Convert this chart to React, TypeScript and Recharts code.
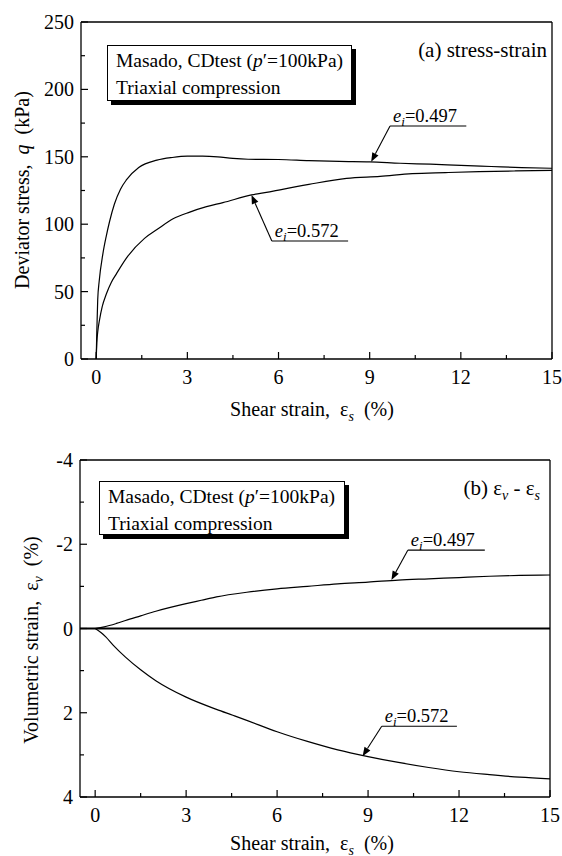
import React from "react"
import { LineChart, Line, XAxis, YAxis, ReferenceLine } from "recharts"

const FONT = '"Liberation Serif", "Times New Roman", Times, serif'

// shear strain ticks (major every 3, minor in between)
const strainTicks = [0, 1.5, 3, 4.5, 6, 7.5, 9, 10.5, 12, 13.5, 15]
const qTicks = [0, 25, 50, 75, 100, 125, 150, 175, 200, 225, 250]
const evTicks = [-4, -3, -2, -1, 0, 1, 2, 3, 4]

// (a) stress-strain, e_i = 0.497
const strainDenseQ = [0, 0.02, 0.05, 0.1, 0.22, 0.33, 0.44, 0.6, 0.8, 1.0, 1.4, 2, 2.5, 3, 3.5, 4, 4.5, 5, 6, 7, 8, 9, 10, 11, 12, 13, 14, 15]
const qDense = [0, 20, 44, 58, 78, 91, 102, 115, 126, 133, 142, 147.5, 149.5, 150.5, 150.5, 150, 148.8, 148.2, 148, 147.2, 146.6, 146.3, 145.2, 144.5, 143.6, 142.8, 142, 141.5]

// (a) stress-strain, e_i = 0.572
const strainLooseQ = [0, 0.02, 0.05, 0.11, 0.2, 0.33, 0.5, 0.66, 1.0, 1.59, 2, 2.53, 3.08, 3.63, 4.17, 5.11, 5.71, 6.05, 7, 8.24, 9.34, 10.4, 11.5, 12.6, 13.8, 15]
const qLoose = [0, 12, 20, 29, 39, 48, 57, 63, 75, 89.5, 96, 104, 109, 113, 116, 121.7, 124, 125.5, 129.5, 134, 135.5, 137.5, 138.3, 139, 139.5, 140]

// (b) volumetric strain, e_i = 0.497
const strainDenseV = [0, 0.3, 0.7, 1, 1.5, 2, 3, 3.5, 4, 5, 6, 7, 8, 9, 10, 11, 12, 13, 14, 15]
const evDense = [0, -0.04, -0.12, -0.19, -0.3, -0.41, -0.59, -0.67, -0.75, -0.86, -0.94, -1.0, -1.06, -1.1, -1.15, -1.18, -1.21, -1.24, -1.26, -1.27]

// (b) volumetric strain, e_i = 0.572
const strainLooseV = [0, 0.2, 0.35, 0.6, 1, 1.5, 2, 3, 4, 4.54, 5, 6, 7, 8, 9, 10, 11, 12, 13, 14, 15]
const evLoose = [0, 0.1, 0.2, 0.4, 0.68, 0.98, 1.24, 1.63, 1.92, 2.06, 2.18, 2.45, 2.68, 2.88, 3.04, 3.18, 3.3, 3.4, 3.47, 3.53, 3.57]

// annotation callouts: arrow tip, elbow, underline end
const calloutsQ = [
  { value: "0.497", tip: [9.05, 146.3], elbow: [9.67, 172.8], endX: 12.18 },
  { value: "0.572", tip: [5.11, 121.7], elbow: [5.78, 87.5], endX: 8.29 },
]
const calloutsV = [
  { value: "0.497", tip: [9.77, -1.15], elbow: [10.31, -1.86], endX: 12.85 },
  { value: "0.572", tip: [8.82, 3.03], elbow: [9.45, 2.32], endX: 11.93 },
]

const zip = (xs: number[], ys: number[]) => xs.map((x, i) => ({ x, y: ys[i] }))

const XTick = (props: any) => {
  const { x, y, payload, side } = props
  const major = payload.value % 3 === 0
  const len = major ? 7 : 4
  const dir = side === "bottom" ? -1 : 1
  return (
    <g>
      <line x1={x} y1={y} x2={x} y2={y + dir * len} stroke="#000" strokeWidth={1.2} />
      {side === "bottom" && major && (
        <text x={x} y={y + 25} textAnchor="middle" fontSize={20} fontFamily={FONT} fill="#000">
          {payload.value}
        </text>
      )}
    </g>
  )
}

const YTick = (props: any) => {
  const { x, y, payload, side, step } = props
  const major = payload.value % step === 0
  const len = major ? 7 : 4
  const dir = side === "left" ? 1 : -1
  return (
    <g>
      <line x1={x} y1={y} x2={x + dir * len} y2={y} stroke="#000" strokeWidth={1.2} />
      {side === "left" && major && (
        <text x={x - 7} y={y + 7} textAnchor="end" fontSize={20} fontFamily={FONT} fill="#000">
          {payload.value}
        </text>
      )}
    </g>
  )
}

const Arrow = (props: any) => {
  const { x1, y1, x2, y2 } = props
  const ang = Math.atan2(y2 - y1, x2 - x1)
  const L = 9
  const W = 3.5
  const bx = x2 - L * Math.cos(ang)
  const by = y2 - L * Math.sin(ang)
  const px = -Math.sin(ang) * W
  const py = Math.cos(ang) * W
  return (
    <g>
      <line x1={x1} y1={y1} x2={bx} y2={by} stroke="#000" strokeWidth={1.1} />
      <polygon points={`${x2},${y2} ${bx + px},${by + py} ${bx - px},${by - py}`} fill="#000" />
    </g>
  )
}

const Underline = (props: any) => {
  const { x1, y1, x2, y2, value } = props
  return (
    <g>
      <line x1={x1} y1={y1} x2={x2} y2={y2} stroke="#000" strokeWidth={1.1} />
      <text x={x1 + 3} y={y1 - 4} fontSize={18.5} fontFamily={FONT} fill="#000">
        <tspan fontStyle="italic">e</tspan>
        <tspan fontStyle="italic" fontSize={13} dy={4}>i</tspan>
        <tspan dy={-4}>={value}</tspan>
      </text>
    </g>
  )
}

const callouts = (list: typeof calloutsQ) =>
  list.flatMap((c, i) => [
    <ReferenceLine
      key={`a${i}`}
      segment={[
        { x: c.elbow[0], y: c.elbow[1] },
        { x: c.tip[0], y: c.tip[1] },
      ]}
      shape={(p: any) => <Arrow {...p} />}
    />,
    <ReferenceLine
      key={`u${i}`}
      segment={[
        { x: c.elbow[0], y: c.elbow[1] },
        { x: c.endX, y: c.elbow[1] },
      ]}
      shape={(p: any) => <Underline {...p} value={c.value} />}
    />,
  ])

const axisLine = { stroke: "#000", strokeWidth: 1.3 }

const InfoBox = ({ left, top, width, height }: any) => (
  <div
    style={{
      position: "absolute",
      left,
      top,
      width,
      height,
      boxSizing: "border-box",
      border: "1px solid #000",
      boxShadow: "4px 4px 0 #000",
      background: "#fff",
      fontFamily: FONT,
      fontSize: 19.5,
      lineHeight: "27px",
      padding: "1px 0 0 8px",
      whiteSpace: "nowrap",
    }}
  >
    <div>
      Masado, CDtest (<i>p</i>′=100kPa)
    </div>
    <div>Triaxial compression</div>
  </div>
)

const text = (style: React.CSSProperties): React.CSSProperties => ({
  position: "absolute",
  fontFamily: FONT,
  fontSize: 20,
  whiteSpace: "pre",
  lineHeight: 1,
  ...style,
})

const sub: React.CSSProperties = { fontStyle: "italic", fontSize: 14 }

const Frame = ({ yDomain, yTicks, step, reversed }: any) => [
  <XAxis
    key="xb"
    type="number"
    dataKey="x"
    domain={[-0.5, 15]}
    ticks={strainTicks}
    height={1}
    tickSize={0}
    tickMargin={0}
    tickLine={false}
    axisLine={axisLine}
    tick={(p: any) => <XTick {...p} side="bottom" />}
    interval={0}
  />,
  <XAxis
    key="xt"
    xAxisId="top"
    orientation="top"
    type="number"
    domain={[-0.5, 15]}
    ticks={strainTicks}
    height={1}
    tickSize={0}
    tickMargin={0}
    tickLine={false}
    axisLine={axisLine}
    tick={(p: any) => <XTick {...p} side="top" />}
    interval={0}
  />,
  <YAxis
    key="yl"
    type="number"
    domain={yDomain}
    reversed={reversed}
    ticks={yTicks}
    width={1}
    tickSize={0}
    tickMargin={0}
    tickLine={false}
    axisLine={axisLine}
    tick={(p: any) => <YTick {...p} side="left" step={step} />}
    interval={0}
  />,
  <YAxis
    key="yr"
    yAxisId="right"
    orientation="right"
    type="number"
    domain={yDomain}
    reversed={reversed}
    ticks={yTicks}
    width={1}
    tickSize={0}
    tickMargin={0}
    tickLine={false}
    axisLine={axisLine}
    tick={(p: any) => <YTick {...p} side="right" step={step} />}
    interval={0}
  />,
]

export default function App() {
  return (
    <div style={{ position: "absolute", left: 0, top: 0, width: 562, height: 856, background: "#fff" }}>
      {/* (a) stress-strain */}
      <div style={{ position: "absolute", left: 0, top: 0 }}>
        <LineChart width={562} height={400} margin={{ top: 21, right: 9, left: 80, bottom: 40 }}>
          {Frame({ yDomain: [0, 250], yTicks: qTicks, step: 50, reversed: false })}
          <Line data={zip(strainDenseQ, qDense)} dataKey="y" type="monotone" stroke="#000" strokeWidth={1.2} dot={false} isAnimationActive={false} />
          <Line data={zip(strainLooseQ, qLoose)} dataKey="y" type="monotone" stroke="#000" strokeWidth={1.2} dot={false} isAnimationActive={false} />
          {callouts(calloutsQ)}
        </LineChart>
      </div>

      {/* (b) volumetric strain */}
      <div style={{ position: "absolute", left: 0, top: 430 }}>
        <LineChart width={562} height={426} margin={{ top: 29, right: 11, left: 79, bottom: 58 }}>
          {Frame({ yDomain: [-4, 4], yTicks: evTicks, step: 2, reversed: true })}
          <ReferenceLine y={0} stroke="#000" strokeWidth={1.8} />
          <Line data={zip(strainDenseV, evDense)} dataKey="y" type="monotone" stroke="#000" strokeWidth={1.2} dot={false} isAnimationActive={false} />
          <Line data={zip(strainLooseV, evLoose)} dataKey="y" type="monotone" stroke="#000" strokeWidth={1.2} dot={false} isAnimationActive={false} />
          {callouts(calloutsV)}
        </LineChart>
      </div>

      {/* legend boxes and panel titles */}
      <InfoBox left={107} top={45} width={245} height={56} />
      <InfoBox left={99} top={481} width={246} height={54} />
      <div style={text({ right: 15, top: 40, fontSize: 21 })}>(a) stress-strain</div>
      <div style={text({ right: 22, top: 478, fontSize: 21 })}>
        (b) ε<sub style={sub}>v</sub> - ε<sub style={sub}>s</sub>
      </div>

      {/* axis titles */}
      <div style={text({ left: 312, top: 411, transform: "translate(-50%, -50%)" })}>
        Shear strain,  ε<sub style={sub}>s</sub>  (%)
      </div>
      <div style={text({ left: 312, top: 845, transform: "translate(-50%, -50%)" })}>
        Shear strain,  ε<sub style={sub}>s</sub>  (%)
      </div>
      <div style={text({ left: 22, top: 190, transform: "translate(-50%, -50%) rotate(-90deg)" })}>
        Deviator stress,  <i>q</i>  (kPa)
      </div>
      <div style={text({ left: 33, top: 640, transform: "translate(-50%, -50%) rotate(-90deg)" })}>
        Volumetric strain,  ε<sub style={sub}>v</sub>  (%)
      </div>
    </div>
  )
}
